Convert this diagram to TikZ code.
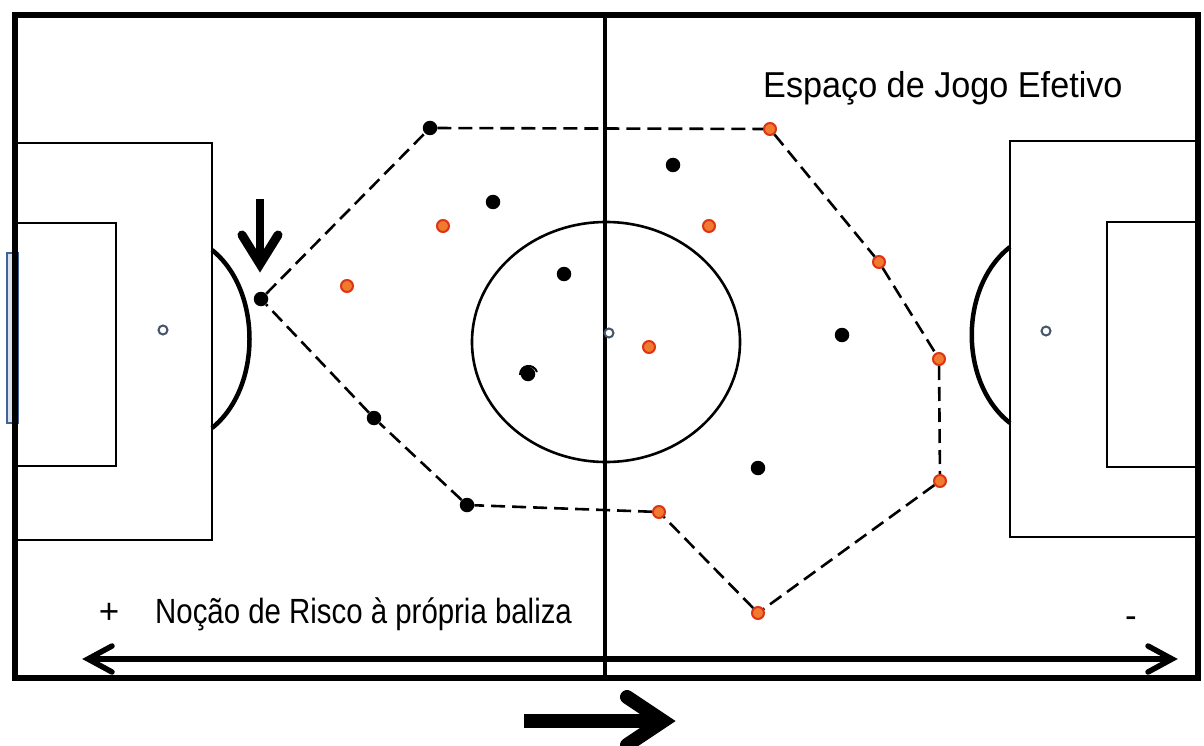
\documentclass[tikz,border=0pt]{standalone}
\usepackage{fontspec}
\setmainfont{Liberation Sans}
\newfontfamily\titlef[FakeStretch=0.95]{Liberation Sans}
\newfontfamily\narrowf[FakeStretch=0.84]{Liberation Sans}
\usetikzlibrary{calc}
\definecolor{orfill}{RGB}{240,122,48}
\definecolor{ordraw}{RGB}{222,52,20}
\definecolor{spotc}{RGB}{68,84,106}
\definecolor{goalfill}{RGB}{220,226,236}
\definecolor{goaldraw}{RGB}{65,97,154}
\begin{document}
\begin{tikzpicture}[x=1pt,y=-1pt,
  fieldline/.style={line width=2.6pt,draw=black},
  arcline/.style={line width=4.5pt,draw=black},
  bp/.style={circle,fill=black,inner sep=0pt,minimum size=14.5pt},
  op/.style={circle,fill=orfill,draw=ordraw,line width=2pt,inner sep=0pt,minimum size=12pt},
  spot/.style={circle,draw=spotc,fill=white,line width=2pt,inner sep=0pt,minimum size=9pt},
  zone/.style={line width=2.6pt,dash pattern=on 14pt off 7pt},
  thickarrow/.style={line width=5.5pt,line cap=round,line join=miter},
  txt/.style={inner sep=0pt,anchor=base west}
]
\useasboundingbox (0,0) rectangle (1204,746);
\fill[white] (0,0) rectangle (1204,746);

% goal
\filldraw[fill=goalfill,draw=goaldraw,line width=1.8pt] (7,253) rectangle (18,423);

% penalty and goal areas
\draw[fieldline] (15,143) rectangle (212,540);
\draw[fieldline] (15,223) rectangle (116,466);
\draw[fieldline] (1010,141) rectangle (1198,537);
\draw[fieldline] (1107,222) rectangle (1198,467);

% penalty arcs
\draw[arcline] (212,250) .. controls (262,290) and (262,388) .. (212,428);
\draw[arcline] (1010,247) .. controls (959,287) and (959,383) .. (1010,423);

% centre circle and halfway line
\draw[fieldline] (606,342) ellipse [x radius=134, y radius=120];
\draw[line width=4pt] (605,15) -- (605,678);

% outer border
\draw[line width=5.5pt] (15,15) rectangle (1198,678);

% spots
\node[spot] (psl) at (163,330) {};
\node[spot] (psr) at (1046,331) {};
\node[spot] (cs) at (609,333) {};

% players
\node[bp] (b1) at (430,128) {};
\node[bp] (b2) at (493,202) {};
\node[bp] (b3) at (564,274) {};
\node[bp] (b4) at (528,374) {};
\node[bp] (b5) at (261,299) {};
\node[bp] (b6) at (374,418) {};
\node[bp] (b7) at (467,505) {};
\node[bp] (b8) at (673,165) {};
\node[bp] (b9) at (842,335) {};
\node[bp] (b10) at (758,468) {};

\node[op] (o1) at (770,129) {};
\node[op] (o2) at (443,226) {};
\node[op] (o3) at (347,286) {};
\node[op] (o4) at (709,226) {};
\node[op] (o5) at (649,347) {};
\node[op] (o6) at (879,262) {};
\node[op] (o7) at (939,359) {};
\node[op] (o8) at (940,481) {};
\node[op] (o9) at (659,512) {};
\node[op] (o10) at (758,613) {};

% small mark over b4
\draw[line width=2pt] ($(b4)+(-8,1)$) .. controls ($(b4)+(-8,-10)$) and ($(b4)+(6,-11)$) .. ($(b4)+(9,-2)$);

% effective play space
\draw[zone] (b1) -- (o1) -- (o6) -- (o7) -- (o8) -- (o10) -- (o9) -- (b7) -- (b6) -- (b5) -- (b1);

% downward arrow
\coordinate (da1) at (260,199);
\coordinate (da2) at (260,262);
\coordinate (dh1) at (242,235);
\coordinate (dh2) at (260,264);
\coordinate (dh3) at (278,235);
\draw[line width=7.5pt] (da1) -- (da2);
\draw[line width=9pt,line cap=round,line join=miter] (dh1) -- (dh2) -- (dh3);

% double arrow
\coordinate (ra1) at (88,659);
\coordinate (ra2) at (1172,659);
\coordinate (lh1) at (112,646);
\coordinate (lh3) at (112,672);
\coordinate (rh1) at (1148,646);
\coordinate (rh3) at (1148,672);
\draw[line width=5.5pt] (ra1) -- (ra2);
\draw[thickarrow] (lh1) -- (ra1) -- (lh3);
\draw[thickarrow] (rh1) -- (ra2) -- (rh3);

% big arrow
\coordinate (ba1) at (524,721);
\coordinate (ba2) at (655,721);
\coordinate (bh1) at (627,697);
\coordinate (bh2) at (663,721);
\coordinate (bh3) at (627,745);
\draw[line width=14pt] (ba1) -- (ba2);
\draw[line width=14pt,line cap=round,line join=miter] (bh1) -- (bh2) -- (bh3);

% texts
\node[txt] (title) at (763,98) {\fontsize{36}{40}\titlef Espaço de Jogo Efetivo};
\node[inner sep=0pt,anchor=base] (plus) at (109,623) {\fontsize{35}{40}\selectfont +};
\node[txt] (risk) at (155,623) {\fontsize{35}{40}\narrowf Noção de Risco à própria baliza};
\node[inner sep=0pt,anchor=base] (minus) at (1131,627) {\fontsize{35}{40}\selectfont -};
\end{tikzpicture}
\end{document}
